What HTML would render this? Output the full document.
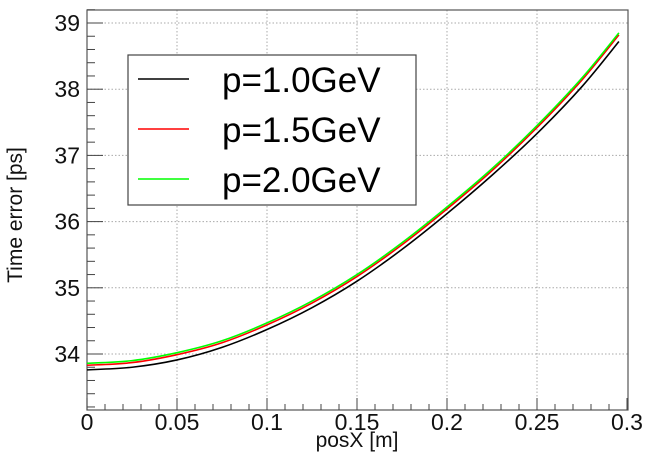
<!DOCTYPE html>
<html><head><meta charset="utf-8"><style>
html,body{margin:0;padding:0;background:#fff;}
svg{display:block;font-family:"Liberation Sans",sans-serif;}
</style></head><body>
<svg id="chart" width="649" height="460"></svg>
<script>
const xs = [0,0.025,0.05,0.075,0.1,0.125,0.15,0.175,0.2,0.225,0.25,0.275,0.2955];
const seriesBlack = [33.76,33.80,33.91,34.10,34.37,34.70,35.10,35.58,36.12,36.70,37.33,38.04,38.72];
const seriesRed   = [33.83,33.87,33.99,34.17,34.44,34.77,35.17,35.65,36.19,36.77,37.42,38.14,38.82];
const seriesGreen = [33.86,33.90,34.02,34.20,34.47,34.80,35.20,35.68,36.22,36.80,37.45,38.17,38.85];
const xTicks = ["0","0.05","0.1","0.15","0.2","0.25","0.3"];
const yTicks = ["34","35","36","37","38","39"];
const legendLabels = ["p=1.0GeV","p=1.5GeV","p=2.0GeV"];

const NS="http://www.w3.org/2000/svg";
const svg=document.getElementById('chart');
const L=87,R=628,T=10,B=410;
const X=v=>L+v*(540/0.3);
const Y=v=>23+(39-v)*66.2;
function mk(t,a,p){const e=document.createElementNS(NS,t);for(const k in a)e.setAttribute(k,a[k]);(p||svg).appendChild(e);return e;}

// grid
xTicks.forEach((t,i)=>{const x=X(+t);if(i>0&&i<xTicks.length-1){const g=mk('line',{x1:x,x2:x,y1:T,y2:B,stroke:'#aaa','stroke-dasharray':'1.5,2'});

}});
yTicks.forEach(t=>{const y=Y(+t);const g=mk('line',{x1:L,x2:R,y1:y,y2:y,stroke:'#aaa','stroke-dasharray':'1.5,2'});

});

// frame
const fr=mk('rect',{x:L,y:T,width:R-L,height:B-T,fill:'none',stroke:'#555','stroke-width':1.2});



// x ticks
for(let i=0;i<=30;i++){const v=i*0.01;const x=X(v);const len=i%5==0?12:6;mk('line',{x1:x,x2:x,y1:B,y2:B-len,stroke:'#444'});}
xTicks.forEach(t=>{const tx=mk('text',{x:X(+t),y:B+20,'text-anchor':'middle','font-size':23,fill:'#111'});tx.textContent=t;

});
// y ticks
for(let v=33.2;v<=39.21;v+=0.2){const y=Y(v);const maj=Math.abs(v-Math.round(v))<0.01;mk('line',{x1:L,x2:L+(maj?16:8),y1:y,y2:y,stroke:'#444'});}
yTicks.forEach(t=>{const tx=mk('text',{x:L-7,y:Y(+t)+8,'text-anchor':'end','font-size':23,fill:'#111'});tx.textContent=t;

});

const xt=mk('text',{x:357,y:447,'text-anchor':'middle','font-size':21,fill:'#111'});xt.textContent='posX [m]';


const yt=mk('text',{x:0,y:0,transform:'translate(22,215) rotate(-90)','text-anchor':'middle','font-size':21,fill:'#111'});yt.textContent='Time error [ps]';



// series
function curve(vals,col,name){
  const pts=xs.map((x,i)=>[X(x),Y(vals[i])]);
  let d='M'+pts[0][0]+','+pts[0][1];
  for(let i=0;i<pts.length-1;i++){
    const p0=pts[i-1]||pts[i],p1=pts[i],p2=pts[i+1],p3=pts[i+2]||p2;
    const c1=[p1[0]+(p2[0]-p0[0])/6,p1[1]+(p2[1]-p0[1])/6];
    const c2=[p2[0]-(p3[0]-p1[0])/6,p2[1]-(p3[1]-p1[1])/6];
    d+=' C'+c1+' '+c2+' '+p2;
  }
  const p=mk('path',{d:d,fill:'none',stroke:col,'stroke-width':1.6});
  
  
}
curve(seriesBlack,'#000','series-p1-0');
curve(seriesRed,'#f00','series-p1-5');
curve(seriesGreen,'#0f0','series-p2-0');

// legend
const lg=mk('g',{});


mk('rect',{x:128,y:55,width:288,height:150,fill:'#fff',stroke:'#444','stroke-width':1.2},lg);
const cols=['#000','#f00','#0f0'];
legendLabels.forEach((t,i)=>{
  const y=79+i*50;
  const ln=mk('line',{x1:138,x2:189,y1:y,y2:y,stroke:cols[i],'stroke-width':1.5},lg);
  
  
  const tx=mk('text',{x:222,y:y+13,'font-size':35,fill:'#000'},lg);tx.textContent=t;
  
  
});
</script>
</body></html>
